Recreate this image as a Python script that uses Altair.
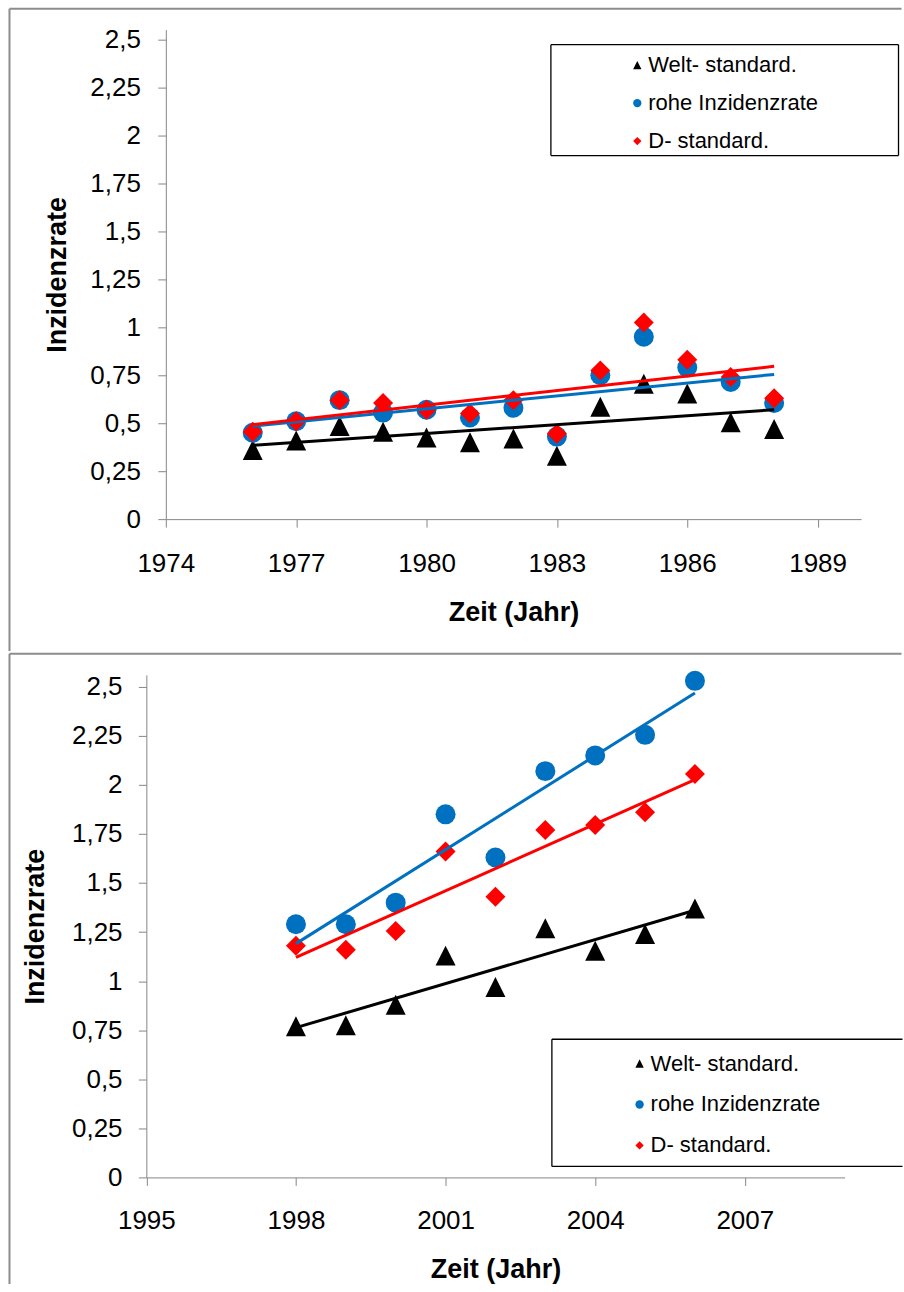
import altair as alt
import pandas as pd

# Series names, colours and marker shapes (legend order = drawing order)
SERIES = ["Welt- standard.", "rohe Inzidenzrate", "D- standard."]
SERIES_COLORS = ["#000000", "#0070C0", "#FF0000"]
SERIES_SHAPES = ["M0,-1L1,1L-1,1Z", "circle", "diamond"]

# Upper panel: 1976-1988
years_1 = [1976, 1977, 1978, 1979, 1980, 1981, 1982, 1983, 1984, 1985, 1986, 1987, 1988]
welt_1 = [0.36, 0.41, 0.485, 0.455, 0.425, 0.40, 0.42, 0.33, 0.585, 0.705, 0.655, 0.505, 0.47]
rohe_1 = [0.45, 0.51, 0.62, 0.555, 0.57, 0.53, 0.58, 0.43, 0.75, 0.95, 0.79, 0.715, 0.605]
dstd_1 = [0.455, 0.51, 0.62, 0.605, 0.57, 0.55, 0.62, 0.445, 0.775, 1.025, 0.83, 0.74, 0.63]

# Lower panel: 1998-2006
years_2 = [1998, 1999, 2000, 2001, 2002, 2003, 2004, 2005, 2006]
welt_2 = [0.77, 0.775, 0.88, 1.13, 0.97, 1.27, 1.155, 1.24, 1.37]
rohe_2 = [1.29, 1.29, 1.40, 1.85, 1.63, 2.07, 2.15, 2.255, 2.53]
dstd_2 = [1.18, 1.16, 1.255, 1.66, 1.43, 1.77, 1.795, 1.86, 2.055]

Y_TICKS = [0, 0.25, 0.5, 0.75, 1, 1.25, 1.5, 1.75, 2, 2.25, 2.5]
X_TICKS_1 = [1974, 1977, 1980, 1983, 1986, 1989]
X_TICKS_2 = [1995, 1998, 2001, 2004, 2007]

FONT = "Liberation Sans"
FRAME_COLOR = "#8c8c8c"
AXIS_COLOR = "#868686"


def long_table(years, welt, rohe, dstd):
    rows = []
    for name, vals in zip(SERIES, [welt, rohe, dstd]):
        for yr, v in zip(years, vals):
            rows.append({"Jahr": yr, "Rate": v, "Reihe": name})
    return pd.DataFrame(rows)


def hrule(chart, x0, x1, y0, color, width):
    return chart.mark_rule(color=color, strokeWidth=width).encode(
        x=alt.value(x0), x2=alt.value(x1), y=alt.value(y0)
    )


def vrule(chart, x0, y0, y1, color, width):
    return chart.mark_rule(color=color, strokeWidth=width).encode(
        x=alt.value(x0), y=alt.value(y0), y2=alt.value(y1)
    )


def panel(df, x_domain, x_range, x_ticks, y_max, width, height, lay):
    x = alt.X(
        "Jahr:Q",
        scale=alt.Scale(domain=x_domain, range=x_range, nice=False, zero=False),
        axis=alt.Axis(
            values=x_ticks, format="d", title="Zeit (Jahr)",
            labelFlush=False, labelOverlap=False,
            labelPadding=lay["x_label_pad"], titleX=lay["x_title_x"],
            titleY=lay["x_title_y"], titleBaseline="middle", titleAlign="center",
        ),
    )
    y = alt.Y(
        "Rate:Q",
        scale=alt.Scale(domain=[0, y_max], nice=False),
        axis=alt.Axis(
            values=Y_TICKS, offset=lay["y_offset"],
            labelExpr="replace(toString(datum.value), '.', ',')",
            labelFlush=False, labelOverlap=False,
            title="Inzidenzrate", titleX=lay["y_title_x"], titleY=height / 2,
            titleAngle=270, titleAlign="center", titleBaseline="middle",
            labelPadding=lay["y_label_pad"],
        ),
    )
    legend = alt.Legend(
        orient="none", legendX=lay["leg_x"], legendY=lay["leg_y"], title=None,
        labelFont=FONT, labelFontSize=22, labelColor="#000000", labelLimit=400,
        symbolSize=70, symbolStrokeWidth=0, rowPadding=lay["leg_row_pad"],
        labelOffset=lay["leg_label_off"], padding=0,
    )
    color = alt.Color("Reihe:N", scale=alt.Scale(domain=SERIES, range=SERIES_COLORS), legend=legend)
    shape = alt.Shape("Reihe:N", scale=alt.Scale(domain=SERIES, range=SERIES_SHAPES), legend=legend)

    base = alt.Chart(df)
    points = base.mark_point(filled=True, size=400, opacity=1, strokeWidth=0).encode(
        x=x, y=y, color=color, shape=shape
    )
    # least-squares trend line for each series
    trends = [
        base.transform_filter(alt.datum.Reihe == name)
        .transform_regression("Jahr", "Rate")
        .mark_line(strokeWidth=3, color=col)
        .encode(x=x, y=y)
        for name, col in zip(SERIES, SERIES_COLORS)
    ]

    # legend frame (the lower one runs past the right edge of the page)
    one = alt.Chart(pd.DataFrame({"k": [0]}))
    bx0, bx1, by0, by1 = lay["box"]
    box = [
        one.mark_rect(fill="white").encode(
            x=alt.value(bx0), x2=alt.value(bx1), y=alt.value(by0), y2=alt.value(by1)
        ),
        hrule(one, bx0, bx1, by0, "#000000", 1.3),
        hrule(one, bx0, bx1, by1, "#000000", 1.3),
        vrule(one, bx0, by0, by1, "#000000", 1.3),
    ]
    if lay["box_closed"]:
        box.append(vrule(one, bx1, by0, by1, "#000000", 1.3))

    # chart-area frame: top and left edges
    frame = [
        hrule(one, lay["frame_left"], lay["frame_right"], lay["frame_top"], FRAME_COLOR, 2),
        vrule(one, lay["frame_left"], lay["frame_top"], lay["frame_bottom"], FRAME_COLOR, 2),
    ]
    return alt.layer(*box, points, *trends, *frame).properties(width=width, height=height)


top = panel(
    long_table(years_1, welt_1, rohe_1, dstd_1), [1974, 1990], [0, 696], X_TICKS_1,
    2.55, 696, 490,
    dict(x_label_pad=23, x_title_x=348, x_title_y=93, y_offset=0,
         y_title_x=-108.5, y_label_pad=17.5,
         leg_x=461, leg_y=24.5, leg_row_pad=16, leg_label_off=0,
         box=(385.5, 733.5, 15, 126), box_closed=True,
         frame_left=-156.5, frame_right=736.5, frame_top=-21, frame_bottom=622),
)
# the lower panel's axis sits 19.5 px further left, so its range starts left of the origin
bottom = panel(
    long_table(years_2, welt_2, rohe_2, dstd_2), [1995, 2009], [-19.5, 679.5], X_TICKS_2,
    2.56, 680, 503,
    dict(x_label_pad=21.8, x_title_x=330, x_title_y=92, y_offset=19.5,
         y_title_x=-111, y_label_pad=16.3,
         leg_x=463.3, leg_y=378, leg_row_pad=19, leg_label_off=0,
         box=(386.5, 737.5, 364.7, 492), box_closed=False,
         frame_left=-156.5, frame_right=736.5, frame_top=-21.3, frame_bottom=609.7),
)

chart = alt.vconcat(top, bottom, spacing=0).resolve_scale(
    color="independent", shape="independent"
).resolve_legend(
    color="independent", shape="independent"
).properties(
    padding={"left": 8, "top": 7, "right": 0, "bottom": 0}
).configure_axis(
    labelFont=FONT, labelFontSize=26, labelColor="#000000",
    titleFont=FONT, titleFontSize=27, titleFontWeight="bold", titleColor="#000000",
    domainColor=AXIS_COLOR, domainWidth=1, tickColor=AXIS_COLOR, tickSize=8, grid=False,
).configure_view(stroke=None)

chart.save("out.html", embed_options={"renderer": "svg", "actions": False})
